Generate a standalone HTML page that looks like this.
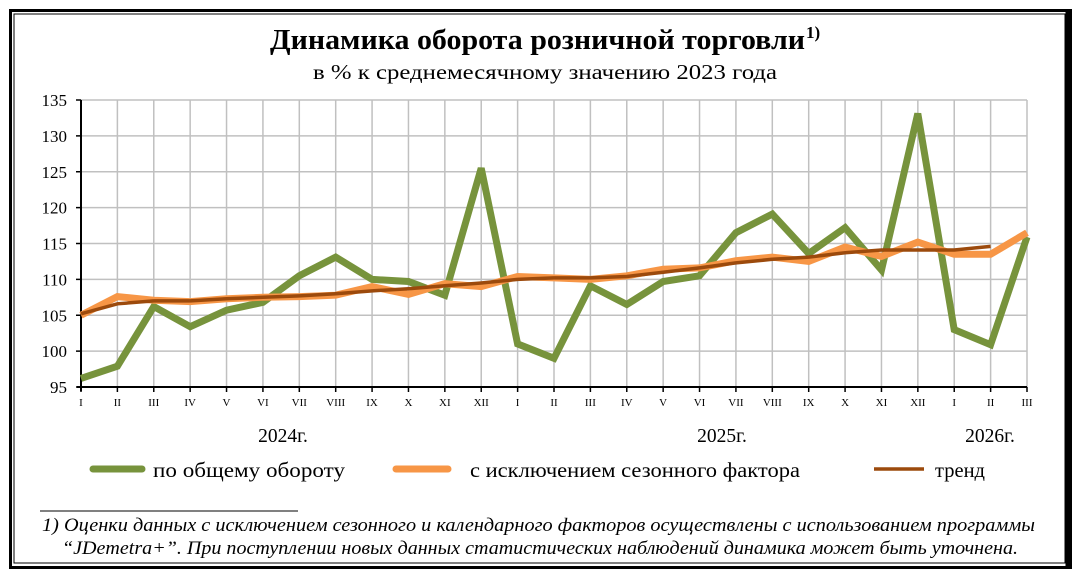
<!DOCTYPE html>
<html><head><meta charset="utf-8"><style>
html,body{margin:0;padding:0;background:#fff;}
svg{display:block;font-family:"Liberation Serif",serif;}
</style></head><body>
<svg id="s" width="1077" height="577" viewBox="0 0 1077 577" xmlns="http://www.w3.org/2000/svg">
<rect x="0" y="0" width="1077" height="577" fill="#fff"/>
<rect x="10.5" y="10.5" width="1060" height="557" fill="none" stroke="#000" stroke-width="3"/>
<rect x="14" y="14" width="1051" height="549" fill="none" stroke="#000" stroke-width="1"/>
<line x1="1068" y1="12" x2="1068" y2="568" stroke="#000" stroke-width="5"/>
<text x="270" y="49" font-size="29" font-weight="bold" textLength="535" lengthAdjust="spacingAndGlyphs">Динамика оборота розничной торговли</text>
<text x="806" y="38" font-size="17" font-weight="bold">1)</text>
<text x="313" y="79" font-size="21.5" textLength="464" lengthAdjust="spacingAndGlyphs">в % к среднемесячному значению 2023  года</text>
<g id="grid"></g>
<g id="series"></g>
<text x="283" y="442" text-anchor="middle" font-size="19.5">2024г.</text>
<text x="722" y="442" text-anchor="middle" font-size="19.5">2025г.</text>
<text x="990" y="442" text-anchor="middle" font-size="19.5">2026г.</text>
<line x1="93" y1="469" x2="142" y2="469" stroke="#77933c" stroke-width="7" stroke-linecap="round"/>
<text x="153" y="477" font-size="21" textLength="192" lengthAdjust="spacingAndGlyphs">по общему  обороту</text>
<line x1="396" y1="469" x2="448" y2="469" stroke="#f79646" stroke-width="7" stroke-linecap="round"/>
<text x="470" y="477" font-size="21" textLength="330" lengthAdjust="spacingAndGlyphs">с исключением  сезонного фактора</text>
<line x1="874" y1="469" x2="924" y2="469" stroke="#9c4a0c" stroke-width="3.5"/>
<text x="935" y="477" font-size="21" textLength="50" lengthAdjust="spacingAndGlyphs">тренд</text>
<line x1="40" y1="511" x2="298" y2="511" stroke="#000" stroke-width="1"/>
<text x="42" y="531" font-size="18.5" font-style="italic" textLength="993" lengthAdjust="spacingAndGlyphs">1) Оценки данных с исключением сезонного и календарного факторов осуществлены с использованием  программы</text>
<text x="62" y="554" font-size="18.5" font-style="italic" textLength="956" lengthAdjust="spacingAndGlyphs">“JDemetra+”. При поступлении новых данных статистических наблюдений динамика может быть уточнена.</text>
</svg>
<script>
var NS="http://www.w3.org/2000/svg";
function el(p,t,a,txt){var e=document.createElementNS(NS,t);for(var k in a)e.setAttribute(k,a[k]);if(txt!==undefined)e.textContent=txt;p.appendChild(e);return e;}
var X0=81,DX=(1027-81)/26;
function X(i){return X0+i*DX;}
function Y(v){return 387-(v-95)*(287/40);}
var g=document.getElementById("grid");
for(var v=100;v<=135;v+=5){el(g,"line",{x1:X0,x2:1027,y1:Y(v),y2:Y(v),stroke:"#c0c0c0","stroke-width":1.5});}
for(var i=1;i<=26;i++){el(g,"line",{x1:X(i),x2:X(i),y1:Y(135),y2:Y(95),stroke:"#c0c0c0","stroke-width":1.5});}
el(g,"line",{x1:X0,x2:X0,y1:Y(135),y2:Y(95)+4,stroke:"#000","stroke-width":2});
el(g,"line",{x1:X0-4,x2:1027,y1:Y(95),y2:Y(95),stroke:"#000","stroke-width":2});
for(var v=95;v<=135;v+=5){el(g,"line",{x1:X0-5,x2:X0,y1:Y(v),y2:Y(v),stroke:"#000","stroke-width":1.5});
el(g,"text",{x:67,y:Y(v)+6,"text-anchor":"end","font-size":17},String(v));}
var R=["I","II","III","IV","V","VI","VII","VIII","IX","X","XI","XII"];
for(var i=0;i<27;i++){el(g,"line",{x1:X(i),x2:X(i),y1:Y(95),y2:Y(95)+5,stroke:"#000","stroke-width":1.5});
el(g,"text",{x:X(i),y:406,"text-anchor":"middle","font-size":11},R[i%12]);}
var green=[96.2,97.9,106.2,103.4,105.7,106.8,110.5,113.1,110,109.7,107.8,125.5,101,99,109.1,106.5,109.7,110.5,116.5,119.1,113.6,117.2,111.3,133.1,103,100.9,115.9];
var orange=[105,107.6,107.1,106.9,107.3,107.5,107.6,107.8,109,107.9,109.4,109,110.4,110.2,110,110.5,111.4,111.6,112.6,113.1,112.5,114.5,113.2,115.2,113.5,113.5,116.5];
var trend=[105.2,106.6,107,107,107.3,107.5,107.7,108,108.4,108.7,109.1,109.5,110,110.2,110.2,110.4,111,111.6,112.3,112.8,113.1,113.7,114.1,114.1,114.1,114.6];
var s=document.getElementById("series");
function pl(d,c,w){el(s,"polyline",{points:d.map(function(v,i){return X(i).toFixed(1)+","+Y(v).toFixed(1);}).join(" "),fill:"none",stroke:c,"stroke-width":w,"stroke-linejoin":"miter"});}
pl(green,"#77933c",7);pl(orange,"#f79646",7);pl(trend,"#9c4a0c",3.5);
</script>
</body></html>
